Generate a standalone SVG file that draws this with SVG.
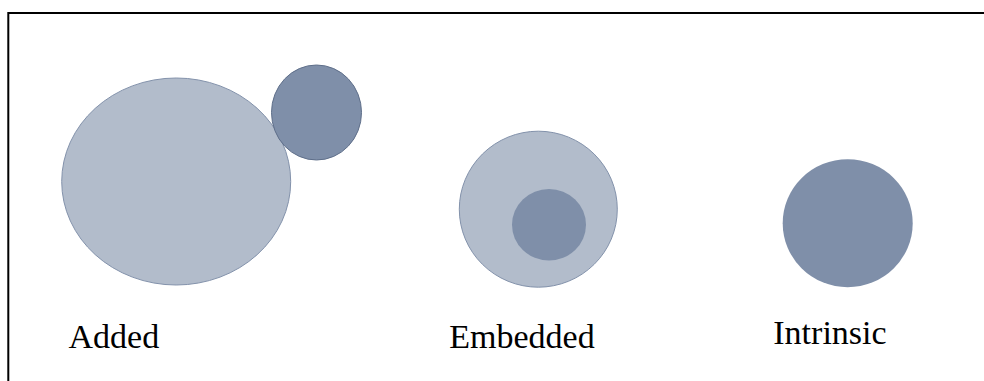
<svg xmlns="http://www.w3.org/2000/svg" width="984" height="381" viewBox="0 0 984 381">
  <style>
    .light { fill: #b2bccb; stroke: #8392ab; stroke-width: 1; }
    .dark { fill: #7f8fa9; }
    .dark.edged { stroke: #5f6f8a; stroke-width: 1; }
    .label { font-family: "Liberation Serif", "Times New Roman", serif; font-size: 34px; fill: #000; }
    .frame { fill: none; stroke: #000; stroke-width: 2; }
  </style>
  <rect width="984" height="381" fill="#fff"/>
  <!-- open frame: top and left edges only -->
  <path class="frame" d="M8.3,382 V13 H985"/>

  <g id="added">
    <ellipse class="light" cx="176.2" cy="181.5" rx="114.5" ry="103.5"/>
    <ellipse class="dark edged" cx="316.5" cy="112.5" rx="45" ry="47.5"/>
    <text class="label" x="68.5" y="348">Added</text>
  </g>

  <g id="embedded">
    <ellipse class="light" cx="538.3" cy="209.2" rx="79" ry="78"/>
    <ellipse class="dark" cx="549" cy="224.8" rx="37" ry="35.8"/>
    <text class="label" x="449.3" y="347.5">Embedded</text>
  </g>

  <g id="intrinsic">
    <ellipse class="dark" cx="847.7" cy="223.2" rx="65" ry="64"/>
    <text class="label" x="773.3" y="343.5">Intrinsic</text>
  </g>

  <g id="connectors"/>
</svg>
